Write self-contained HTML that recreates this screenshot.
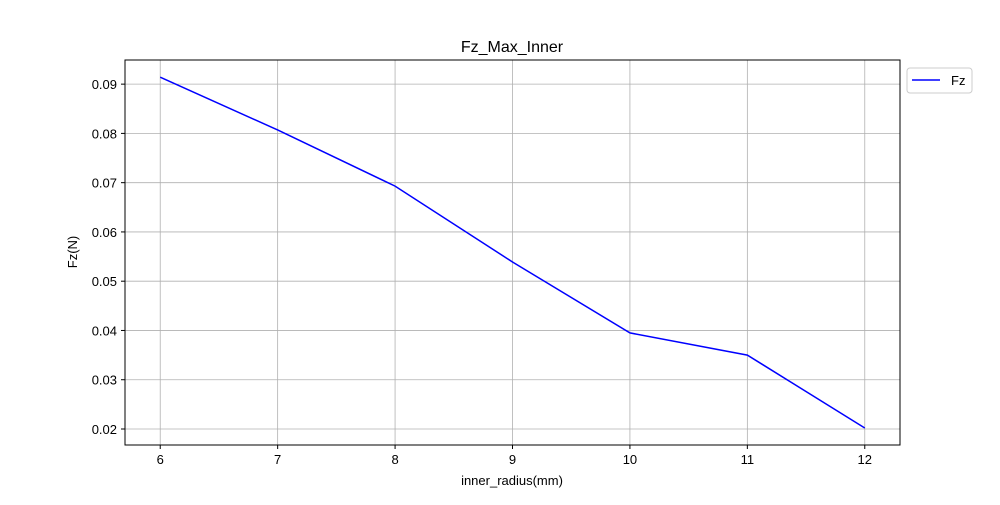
<!DOCTYPE html>
<html><head><meta charset="utf-8"><style>
body{margin:0;background:#fff;font-family:"Liberation Sans","DejaVu Sans",sans-serif}
</style></head><body>
<svg id="chart" width="1000" height="500" xmlns="http://www.w3.org/2000/svg">
<rect width="1000" height="500" fill="#fff"/>
<g id="grid"></g><g id="axes"></g><g id="series"></g>
<text x="512" y="52" text-anchor="middle" font-size="16">Fz_Max_Inner</text>
<text x="512" y="485" text-anchor="middle" font-size="13">inner_radius(mm)</text>
<text x="77" y="252" text-anchor="middle" font-size="13" transform="rotate(-90 77 252)">Fz(N)</text>
<g>
<rect x="907" y="68" width="65" height="25" rx="3" fill="#fff" stroke="#ccc"/>
<line x1="912" y1="80" x2="940" y2="80" stroke="#0000ff" stroke-width="1.5"/>
<text x="951" y="85" font-size="13">Fz</text>
</g>
</svg>
<script>
const categories=[6,7,8,9,10,11,12];
const fzValues=[0.0914,0.0807,0.0693,0.0539,0.0395,0.0350,0.0202];
const xTicks=[6,7,8,9,10,11,12];
const yTicks=[0.02,0.03,0.04,0.05,0.06,0.07,0.08,0.09];
const L=125,R=900,T=60,B=445,xMin=5.7,xMax=12.3,yMin=0.01675,yMax=0.0949;
const xs=v=>L+(v-xMin)/(xMax-xMin)*(R-L);
const ys=v=>B-(v-yMin)/(yMax-yMin)*(B-T);
const NS="http://www.w3.org/2000/svg";
function mk(t,a,p){const e=document.createElementNS(NS,t);for(const k in a)e.setAttribute(k,a[k]);p.appendChild(e);return e;}
const g=document.getElementById('grid'),ax=document.getElementById('axes'),s=document.getElementById('series');
xTicks.forEach(v=>{const x=xs(v);
const l=mk('line',{x1:x,x2:x,y1:T,y2:B,stroke:'#b0b0b0','stroke-width':0.8},g);


mk('line',{x1:x,x2:x,y1:B,y2:B+4,stroke:'#000'},ax);
const t=mk('text',{x:x,y:B+19,'text-anchor':'middle','font-size':13},ax);t.textContent=v;

});
yTicks.forEach(v=>{const y=ys(v);
const l=mk('line',{x1:L,x2:R,y1:y,y2:y,stroke:'#b0b0b0','stroke-width':0.8},g);


mk('line',{x1:L-4,x2:L,y1:y,y2:y,stroke:'#000'},ax);
const t=mk('text',{x:L-8,y:y+5,'text-anchor':'end','font-size':13},ax);t.textContent=v.toFixed(2);

});
const fr=mk('rect',{x:L,y:T,width:R-L,height:B-T,fill:'none',stroke:'#000','stroke-width':1},ax);


const pl=mk('polyline',{points:categories.map((c,i)=>xs(c)+','+ys(fzValues[i])).join(' '),fill:'none',stroke:'#0000ff','stroke-width':1.5},s);


</script>
</body></html>
